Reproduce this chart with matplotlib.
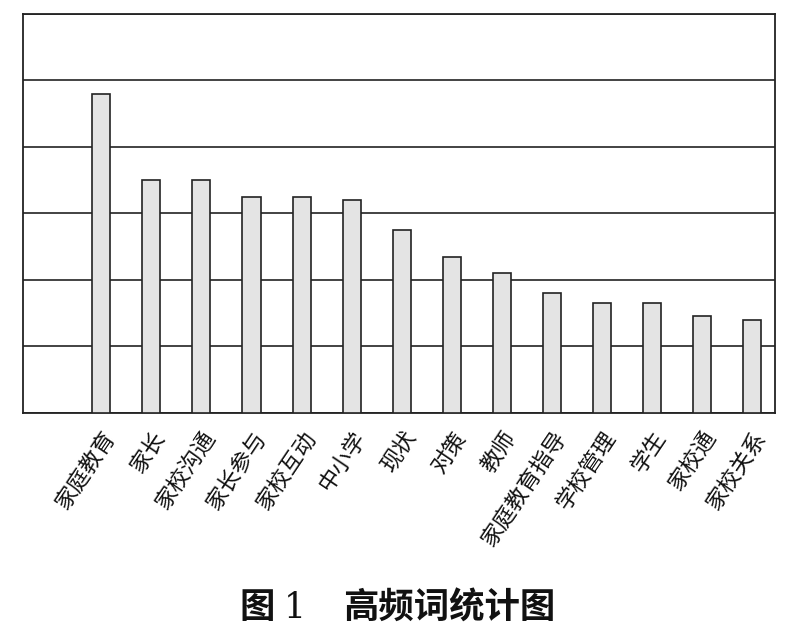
import matplotlib
matplotlib.use('Agg')
import matplotlib.pyplot as plt
import numpy as np

plt.rcParams['font.family'] = ['Noto Sans CJK SC', 'DejaVu Sans']

# ── 数据 ──────────────────────────────────────────
words = ['家庭教育', '家长', '家校沟通', '家长参与', '家校互动', '中小学', '现状',
         '对策', '教师', '家庭教育指导', '学校管理', '学生', '家校通', '家校关系']
counts = [96, 70, 70, 65, 65, 64, 55, 47, 42, 36, 33, 33, 29, 28]
y_ticks = [0, 20, 40, 60, 80, 100, 120]

DARK = '#222222'
BAR = '#e4e4e4'

fig = plt.figure(figsize=(8, 6.32), dpi=100)
ax = fig.add_axes([0.029, 0.347, 0.94, 0.631])

x = np.arange(len(words))
ax.bar(x, counts, width=0.36, color=BAR, edgecolor=DARK, linewidth=1.2, zorder=3)

ax.set_xlim(-1.56, len(words) - 1 + 0.46)
ax.set_ylim(0, y_ticks[-1])
ax.set_yticks(y_ticks)
ax.set_yticklabels([])
ax.yaxis.grid(True, color=DARK, linewidth=1.2)
ax.set_axisbelow(True)
ax.tick_params(axis='both', length=0)

ax.set_xticks(x)
ax.set_xticklabels(words, rotation=56, ha='right', va='top',
                   rotation_mode='anchor', fontsize=16, color='#111111')
ax.tick_params(axis='x', pad=10)

for spine in ax.spines.values():
    spine.set_edgecolor(DARK)
    spine.set_linewidth(1.3)

# ── 图题 ──────────────────────────────────────────
fig.text(0.321, 0.038, '图', ha='center', va='center',
         fontsize=25.5, fontweight='bold', color='#111111')
fig.text(0.369, 0.038, '1', ha='center', va='center',
         fontsize=25, family='DejaVu Serif', color='#111111')
fig.text(0.5615, 0.038, '高频词统计图', ha='center', va='center',
         fontsize=25.5, fontweight='bold', color='#111111')

fig.savefig('out.png', dpi=100, facecolor='white')
